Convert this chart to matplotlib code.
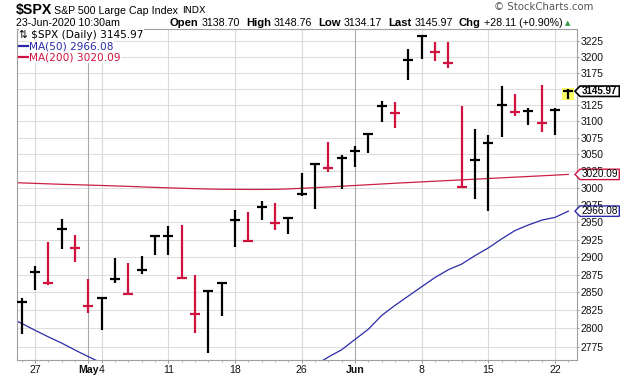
import matplotlib
matplotlib.use("Agg")
import matplotlib.pyplot as plt
from matplotlib.patches import Polygon, Rectangle
from matplotlib.lines import Line2D
from matplotlib.ticker import NullLocator, FixedLocator, FixedFormatter
import numpy as np

# ---------------- data ----------------
dates = ["Apr 23", "Apr 24", "Apr 27", "Apr 28", "Apr 29", "Apr 30", "May 1",
         "May 4", "May 5", "May 6", "May 7", "May 8", "May 11", "May 12", "May 13",
         "May 14", "May 15", "May 18", "May 19", "May 20", "May 21", "May 22",
         "May 26", "May 27", "May 28", "May 29", "Jun 1", "Jun 2", "Jun 3", "Jun 4",
         "Jun 5", "Jun 8", "Jun 9", "Jun 10", "Jun 11", "Jun 12", "Jun 15", "Jun 16",
         "Jun 17", "Jun 18", "Jun 19", "Jun 22", "Jun 23"]
highs = [2844.90, 2842.71, 2887.72, 2921.15, 2954.86, 2930.91, 2869.09, 2844.24,
         2898.23, 2891.11, 2901.92, 2932.16, 2944.25, 2945.82, 2874.14, 2852.80,
         2865.01, 2968.09, 2964.21, 2980.29, 2978.50, 2956.76, 3021.72, 3036.25,
         3068.67, 3049.17, 3062.18, 3081.07, 3130.94, 3128.91, 3211.72, 3233.13,
         3222.71, 3223.27, 3123.53, 3088.42, 3079.76, 3153.45, 3141.16, 3120.00,
         3155.53, 3120.92, 3148.76]
lows = [2794.26, 2791.76, 2852.89, 2860.71, 2912.16, 2892.47, 2821.61, 2797.85,
        2863.55, 2847.65, 2876.48, 2902.88, 2903.44, 2869.59, 2793.15, 2766.64,
        2816.78, 2913.86, 2922.35, 2953.63, 2938.57, 2933.59, 2988.17, 2969.75,
        3023.40, 2998.61, 3031.54, 3051.64, 3098.90, 3090.41, 3163.84, 3196.00,
        3193.11, 3181.49, 2999.49, 2984.47, 2965.66, 3076.06, 3108.03, 3093.51,
        3083.11, 3079.39, 3134.17]
closes = [2797.80, 2836.74, 2878.48, 2863.39, 2939.51, 2912.43, 2830.71, 2842.74,
          2868.44, 2848.42, 2881.19, 2929.80, 2930.19, 2870.12, 2820.00, 2852.50,
          2863.70, 2953.91, 2922.94, 2971.61, 2948.51, 2955.45, 2991.77, 3036.13,
          3029.73, 3044.31, 3055.73, 3080.82, 3122.87, 3112.35, 3193.93, 3232.39,
          3207.18, 3190.14, 3002.10, 3041.31, 3066.59, 3124.74, 3113.49, 3115.34,
          3097.74, 3117.86, 3145.97]
ma50 = [2816, 2807, 2797.5, 2788.5, 2780, 2770.5, 2761.5, 2753, 2748, 2744, 2740,
        2737, 2735, 2733, 2731, 2730, 2730, 2731, 2732, 2734, 2737, 2740, 2744,
        2750, 2761, 2771, 2785, 2799, 2818, 2832, 2845, 2858, 2871, 2882, 2890,
        2902, 2913, 2926, 2938, 2946, 2953, 2957, 2966.08]
ma200 = [3008.3, 3007.5, 3006.8, 3006.1, 3005.4, 3004.9, 3004.3, 3003.7, 3003.0,
         3002.4, 3001.6, 3000.9, 3000.2, 2999.6, 2999.0, 2998.5, 2998.1, 2998.0,
         2997.9, 2997.9, 2998.0, 2998.6, 2999.5, 3000.5, 3001.5, 3002.6, 3003.7,
         3004.8, 3005.9, 3007.0, 3008.0, 3009.0, 3010.0, 3011.0, 3012.0, 3013.0,
         3014.0, 3015.0, 3016.0, 3017.0, 3018.0, 3019.0, 3020.09]
xtick_dates = ["Apr 27", "May 1", "May 4", "May 11", "May 18", "May 26",
               "Jun 1", "Jun 8", "Jun 15", "Jun 22"]
xtick_labels = ["27", "May", "4", "11", "18", "26", "Jun", "8", "15", "22"]
month_starts = ["May 1", "Jun 1"]
ytick_vals = list(range(2775, 3226, 25))
# the 3150 label is covered by the last-price flag in the reference
ytick_labels = ["" if v == 3150 else str(v) for v in ytick_vals]

# ---------------- figure ----------------
W, H = 620, 376
fig = plt.figure(figsize=(W / 100, H / 100), dpi=100)
fig.patch.set_facecolor("white")

def fx(x):
    return x / W

def fy(y):
    return 1 - y / H

ax = fig.add_axes([fx(16.7), fy(360), (576.7 - 16.7) / W, (360 - 29) / H])
ax.set_facecolor("white")

RED = "#d1123f"
BLACK = "#000000"
NAVY = "#2a2aa8"
MA200C = "#cc1f45"
SANS = ["Liberation Sans", "DejaVu Sans"]

n = len(dates)
x = np.arange(n) - 1  # first entry (Apr 23) sits off-screen
pos = {d: xi for d, xi in zip(dates, x)}

ax.set_yscale("log")
ax.set_xlim(-0.375, 41.625)
ax.set_ylim(2757, 3243.6)

# grid
for v in ytick_vals:
    ax.axhline(v, color="#dedede", lw=0.8, zorder=0)
for d in xtick_dates:
    c = "#a9a9a9" if d in month_starts else "#d9d9d9"
    ax.axvline(pos[d], color=c, lw=0.8, zorder=0)

# moving averages
ax.plot(x, ma200, color=MA200C, lw=0.9, zorder=2)
ax.plot(x, ma50, color=NAVY, lw=0.9, zorder=2)

# HLC bars
cols = [BLACK] + [BLACK if closes[i] >= closes[i - 1] else RED for i in range(1, n)]
ax.add_patch(Rectangle((x[-1] - 0.48, lows[-1] - 1.5), 0.9,
                       (highs[-1] + 2.5) - (lows[-1] - 1.5),
                       facecolor="#ffff66", edgecolor="none", zorder=1))
ax.vlines(x, lows, highs, colors=cols, lw=1.6, zorder=3)
ax.hlines(closes, x - 0.37, x + 0.37, colors=cols, lw=1.6, zorder=3)

# axes styling
for s in ax.spines.values():
    s.set_color("#a0a0a0")
    s.set_linewidth(0.8)
ax.yaxis.tick_right()
ax.yaxis.set_major_locator(FixedLocator(ytick_vals))
ax.yaxis.set_major_formatter(FixedFormatter(ytick_labels))
ax.yaxis.set_minor_locator(NullLocator())
ax.tick_params(axis="y", which="both", length=1.5, width=0.6, color="#888888",
               pad=1.5, labelsize=7.4, labelcolor="#111111")
for lab in ax.get_yticklabels():
    lab.set_family(SANS)

ax.set_xticks([pos[d] for d in xtick_dates])
ax.set_xticklabels(xtick_labels)
ax.set_xticks(x[1:], minor=True)
ax.tick_params(axis="x", which="major", length=2, width=0.6, color="#888888",
               pad=1.5, labelsize=7.6, labelcolor="#111111")
ax.tick_params(axis="x", which="minor", length=1.5, width=0.5, color="#999999")
for lab, txt in zip(ax.get_xticklabels(), xtick_labels):
    lab.set_family(SANS)
    if txt in ("May", "Jun"):
        lab.set_fontweight("bold")

# legend inside the chart
fig.text(fx(19), fy(34.8), "\u21c5 $SPX (Daily) 3145.97", fontsize=7.6,
         family="DejaVu Sans", color="black", va="center", ha="left",
         bbox=dict(facecolor="white", edgecolor="none", pad=0.3), zorder=6)
leg_items = [("MA(50) 2966.08", NAVY, 46.4), ("MA(200) 3020.09", RED, 57.2)]
for label, c, yy in leg_items:
    fig.text(fx(29), fy(yy), label, fontsize=7.6, family="DejaVu Sans", color=c,
             va="center", ha="left",
             bbox=dict(facecolor="white", edgecolor="none", pad=0.3), zorder=6)
    fig.add_artist(Line2D([fx(19), fx(28)], [fy(yy), fy(yy)], color=c, lw=1.6,
                          zorder=7))

# ---------------- header ----------------
fig.text(fx(15.5), fy(10), "$SPX", fontsize=10.2, weight="bold", family=SANS,
         va="center", ha="left")
fig.text(fx(53.5), fy(10.5), "S&P 500 Large Cap Index", fontsize=7.7, family=SANS,
         va="center", ha="left")
fig.text(fx(182), fy(10.5), "INDX", fontsize=6.8, family="DejaVu Sans",
         va="center", ha="left")
fig.text(fx(593), fy(7.5), "\u00a9 StockCharts.com", fontsize=7.3,
         family="DejaVu Sans", color="#555555", va="center", ha="right")
fig.text(fx(15.5), fy(22.5), "23-Jun-2020 10:30am", fontsize=7.7, family=SANS,
         va="center", ha="left")

renderer = fig.canvas.get_renderer()
parts = [("Open", "bold", 3), ("3138.70", "normal", 6), ("High", "bold", 3),
         ("3148.76", "normal", 6), ("Low", "bold", 3), ("3134.17", "normal", 6),
         ("Last", "bold", 3), ("3145.97", "normal", 6), ("Chg", "bold", 3),
         ("+28.11 (+0.90%)", "normal", 3)]
cx = 170
for txt, wt, gap in parts:
    t = fig.text(fx(cx), fy(22.5), txt, fontsize=8.1 if wt == "bold" else 7.7,
                 weight=wt, family=SANS, va="center", ha="left")
    bb = t.get_window_extent(renderer)
    cx = bb.x1 + gap
fig.text(fx(cx), fy(23.5), "\u25b2", fontsize=5, color="#2e9e44",
         family="DejaVu Sans", va="center", ha="left")

# ---------------- price flags on right ----------------
def flag(value, text, edge, bold=False, lw=1.0):
    ypix = ax.transData.transform((0, value))[1]
    yc = H - ypix
    pts = [(575, yc), (580, yc - 5.2), (619.3, yc - 5.2), (619.3, yc + 5.2),
           (580, yc + 5.2)]
    poly = Polygon([(fx(a), fy(b)) for a, b in pts], closed=True,
                   transform=fig.transFigure, facecolor="white", edgecolor=edge,
                   lw=lw, zorder=10)
    fig.add_artist(poly)
    fig.text(fx(599.7), fy(yc), text, fontsize=7.0 if bold else 7.2, family=SANS,
             color="black", weight="bold" if bold else "normal", va="center",
             ha="center", zorder=11)

flag(closes[-1], "3145.97", "black", bold=True, lw=1.2)
flag(ma200[-1], "3020.09", RED)
flag(ma50[-1], "2966.08", NAVY)

fig.savefig("out.png", dpi=100, facecolor="white")
